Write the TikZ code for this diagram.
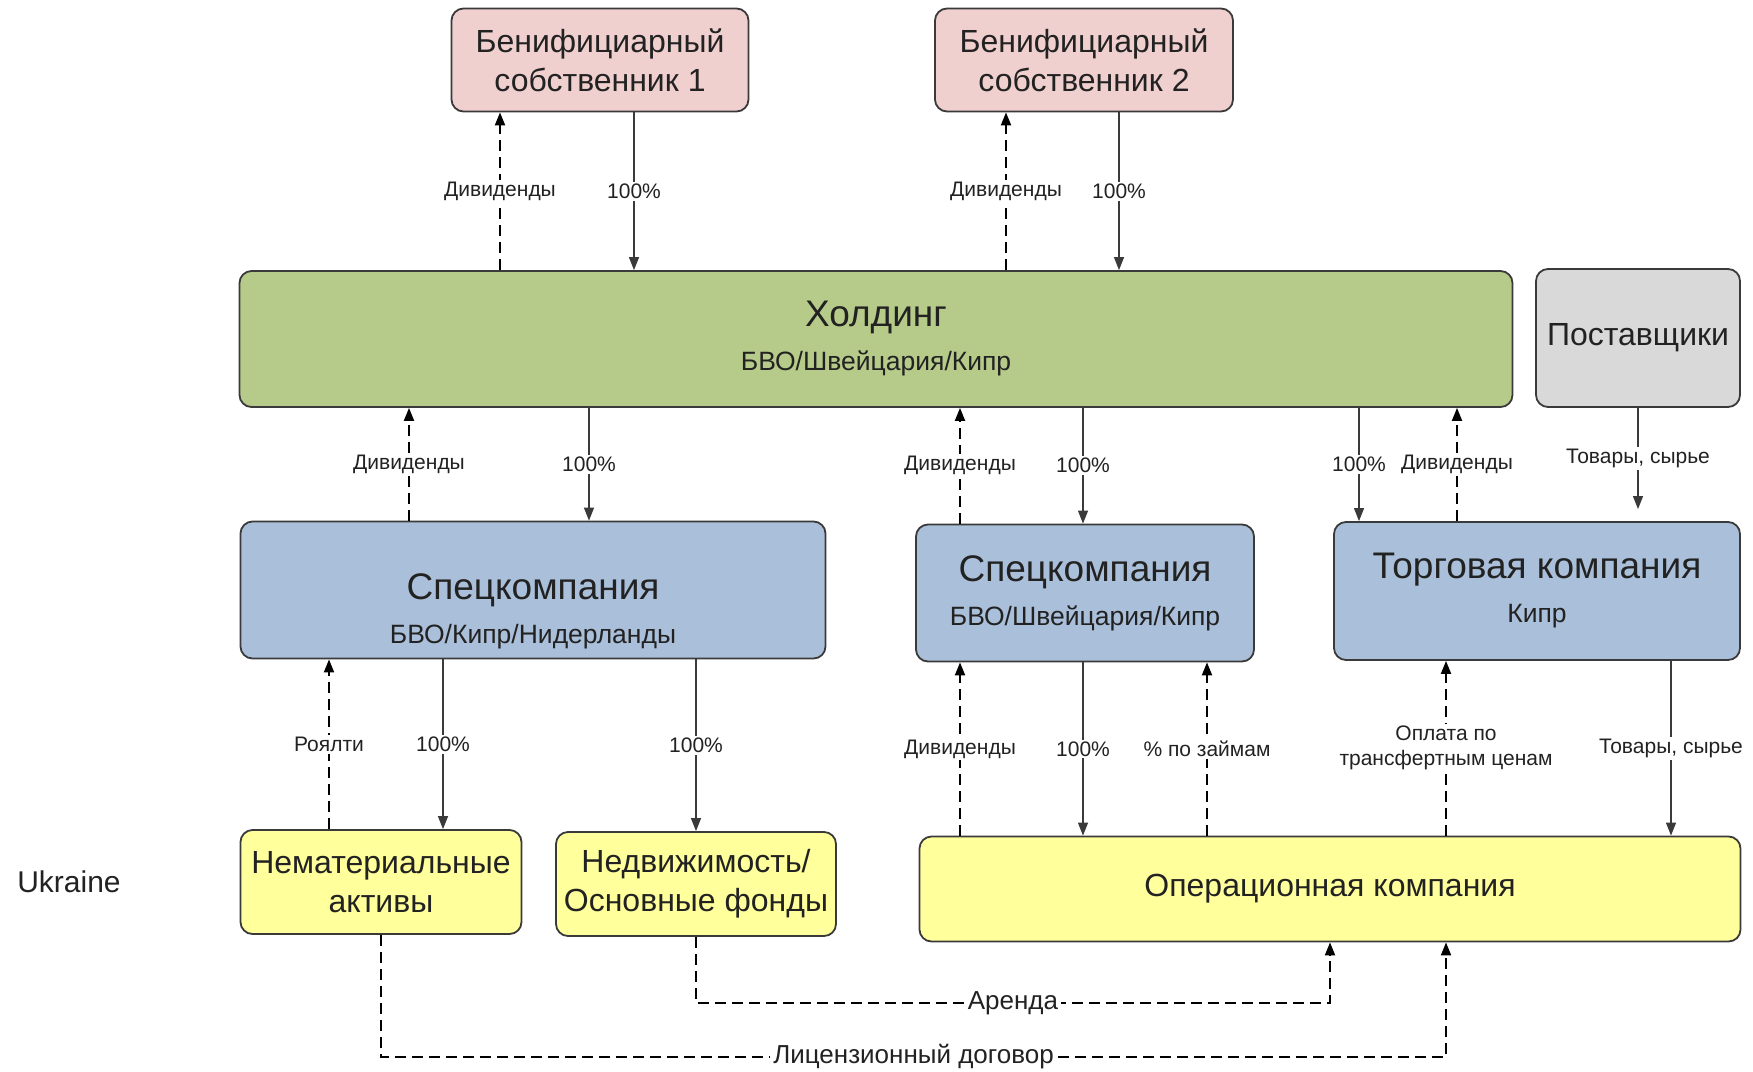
\documentclass[tikz,border=0pt]{standalone}
\usepackage{fontspec}
\setmainfont{Liberation Sans}
\usetikzlibrary{arrows.meta,positioning}
\definecolor{Ink}{HTML}{222222}
\definecolor{Edge}{HTML}{3A3A3A}
\definecolor{Owner}{HTML}{F0CFCF}
\definecolor{Hold}{HTML}{B6CA89}
\definecolor{Supply}{HTML}{D9D9D9}
\definecolor{Spv}{HTML}{AABFD9}
\definecolor{Local}{HTML}{FFFF9C}
\newcommand\boxtitle[1]{{\fontsize{37}{44}\selectfont #1}}

\begin{document}
\begin{tikzpicture}[x=1pt,y=-1pt,
      box/.style={draw=Edge,line width=1.8pt,rounded corners=12pt,align=center,
        inner sep=0pt,text=Ink},
      big/.style={font=\fontsize{32}{39}\selectfont},
      twin/.style={font=\fontsize{26.5}{44}\selectfont},
      lbl/.style={fill=white,inner sep=2pt,align=center,text=Ink,
        font=\fontsize{21}{25}\selectfont},
      lblwide/.style={fill=white,inner sep=3pt,text=Ink,
        font=\fontsize{26}{30}\selectfont},
      own/.style={-{Triangle[length=13pt,width=10pt]},line width=1.2pt,color=Edge},
      div/.style={-{Triangle[length=13pt,width=10pt]},line width=2pt,
        dash pattern=on 11pt off 6pt,color=black}
    ]
      \useasboundingbox (0,0) rectangle (1753,1071);
      \node[box,big,fill=Owner,minimum width=297pt,minimum height=103pt] (owner1) at (600,60) {Бенифициарный\\собственник 1};
      \node[box,big,fill=Owner,minimum width=298pt,minimum height=103pt] (owner2) at (1084,60) {Бенифициарный\\собственник 2};
      \node[box,twin,fill=Hold,minimum width=1273pt,minimum height=136pt] (holding) at (876,339) {\boxtitle{Холдинг}\\БВО/Швейцария/Кипр};
      \node[box,big,fill=Supply,minimum width=204pt,minimum height=138pt] (supp) at (1638,338) {Поставщики};
      \node[box,fill=Spv,minimum width=585pt,minimum height=137pt] (spv1) at (533,590) {};
      \node[twin,align=center,text=Ink,inner sep=0pt] (spv1txt) at ([yshift=-21pt]spv1.center) {\boxtitle{Спецкомпания}\\БВО/Кипр/Нидерланды};
      \node[box,twin,fill=Spv,minimum width=338pt,minimum height=137pt] (spv2) at (1085,593) {\boxtitle{Спецкомпания}\\БВО/Швейцария/Кипр};
      \node[box,twin,fill=Spv,minimum width=406pt,minimum height=138pt] (trade) at (1537,591) {\boxtitle{Торговая компания}\\Кипр};
      \node[box,big,fill=Local,minimum width=281pt,minimum height=104pt] (intang) at (381,882) {Нематериальные\\активы};
      \node[box,big,fill=Local,minimum width=280pt,minimum height=104pt] (realty) at (696,884) {Недвижимость/\\Основные фонды};
      \node[box,big,fill=Local,minimum width=821pt,minimum height=105pt] (opco) at (1330,889) {Операционная компания};
      \node[font=\fontsize{30}{36}\selectfont,text=Ink] (ukraine) at (69,882) {Ukraine};
      \coordinate (goods) at ([yshift=12pt]trade.north -| supp.south);
      \draw[div] (holding.north -| 500,0) -- node[lbl]{Дивиденды} (owner1.south -| 500,0);
      \draw[own] (owner1.south -| 634,0) -- node[lbl]{100\%} (holding.north -| 634,0);
      \draw[div] (holding.north -| 1006,0) -- node[lbl]{Дивиденды} (owner2.south -| 1006,0);
      \draw[own] (owner2.south -| 1119,0) -- node[lbl]{100\%} (holding.north -| 1119,0);
      \draw[div] (spv1.north -| 409,0) -- node[lbl]{Дивиденды} (holding.south -| 409,0);
      \draw[own] (holding.south -| 589,0) -- node[lbl]{100\%} (spv1.north -| 589,0);
      \draw[div] (spv2.north -| 960,0) -- node[lbl]{Дивиденды} (holding.south -| 960,0);
      \draw[own] (holding.south -| 1083,0) -- node[lbl]{100\%} (spv2.north -| 1083,0);
      \draw[own] (holding.south -| 1359,0) -- node[lbl]{100\%} (trade.north -| 1359,0);
      \draw[div] (trade.north -| 1457,0) -- node[lbl]{Дивиденды} (holding.south -| 1457,0);
      \draw[own] (supp.south) -- node[lbl]{Товары, сырье} (goods);
      \draw[div] (intang.north -| 329,0) -- node[lbl]{Роялти} (spv1.south -| 329,0);
      \draw[own] (spv1.south -| 443,0) -- node[lbl]{100\%} (intang.north -| 443,0);
      \draw[own] (spv1.south -| realty.north) -- node[lbl]{100\%} (realty.north);
      \draw[div] (opco.north -| 960,0) -- node[lbl]{Дивиденды} (spv2.south -| 960,0);
      \draw[own] (spv2.south -| 1083,0) -- node[lbl]{100\%} (opco.north -| 1083,0);
      \draw[div] (opco.north -| 1207,0) -- node[lbl]{\% по займам} (spv2.south -| 1207,0);
      \draw[div] (opco.north -| 1446,0) -- node[lbl]{Оплата по\\трансфертным ценам} (trade.south -| 1446,0);
      \draw[own] (trade.south -| 1671,0) -- node[lbl]{Товары, сырье} (opco.north -| 1671,0);
      \draw[div] (realty.south) -- (realty.south |- 0,1003) -- node[lblwide]{Аренда} (opco.south |- 0,1003) -- (opco.south);
      \draw[div] (intang.south) -- (intang.south |- 0,1057) -- node[lblwide]{Лицензионный договор} (1446,1057) -- (opco.south -| 1446,0);
    \end{tikzpicture}
\end{document}
